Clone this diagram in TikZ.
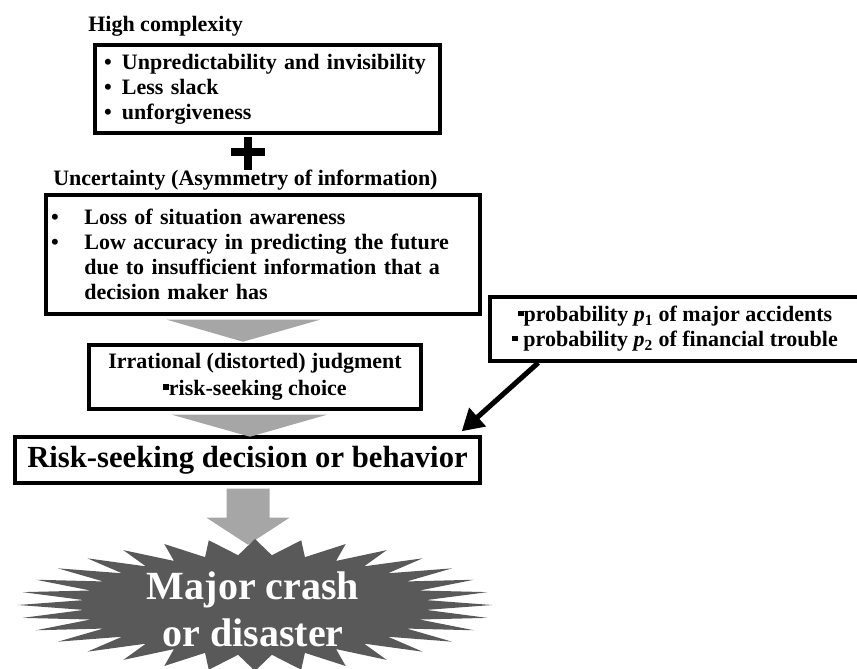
\documentclass[tikz,border=0pt]{standalone}
\usepackage{fontspec}
\setmainfont{Liberation Serif}
\usetikzlibrary{calc,arrows.meta}
\definecolor{arrowgray}{RGB}{166,166,166}
\definecolor{burstgray}{RGB}{89,89,89}
\newcommand{\sqbul}{\raisebox{0.55ex}{\rule{0.26em}{0.26em}}}
\begin{document}
\begin{tikzpicture}[x=0.75pt, y=-0.75pt,
    box/.style={draw, line width=2.6pt, inner ysep=0pt, font=\bfseries\fontsize{16.5}{18.75}\selectfont},
    label/.style={font=\bfseries\fontsize{16.5}{18.75}\selectfont, anchor=west, inner sep=0pt},
    flow/.style={fill=arrowgray},
    pointer/.style={line width=3.8pt, -{Triangle[length=16pt, width=18pt]}}
]
\useasboundingbox (0,0) rectangle (857,668);

% Causes (top)
\node[label] (complexlabel) at (88,26) {High complexity};
\node[box, minimum width=258.75pt, minimum height=66pt, inner xsep=6.75pt, text width=245.25pt, align=left] (complexity) at (267.5,89)
  {\makebox[13.5pt][l]{•}Unpredictability and invisibility\\
   \makebox[13.5pt][l]{•}Less slack\\
   \makebox[13.5pt][l]{•}unforgiveness};
\draw[line width=5.5pt] (248,137) -- (248,170) (231,152) -- (265,152);
\node[label] (uncertlabel) at (53,180) {Uncertainty (Asymmetry of information)};
\node[box, minimum width=325.5pt, minimum height=89.25pt, inner xsep=3.75pt, text width=318pt, align=left] (uncertainty) at (263,254.5)
  {\makebox[25pt][l]{•}Loss of situation awareness\\
   \makebox[25pt][l]{•}Low accuracy in predicting the future\\
   \hspace*{25pt}due to insufficient information that a\\
   \hspace*{25pt}decision maker has};

% Judgment and decision
\node[box, minimum width=249pt, minimum height=48pt, align=center, font=\bfseries\fontsize{16.5}{20}\selectfont] (judgment) at (255,377)
  {Irrational (distorted) judgment\\ \sqbul risk-seeking choice};
\node[box, minimum width=348.75pt, minimum height=34.5pt, font=\bfseries\fontsize{23}{26}\selectfont] (decision) at (247.5,460)
  {Risk-seeking decision or behavior};
\node[box, minimum width=277.5pt, minimum height=48pt, align=center] (prob) at (675,329)
  {\sqbul probability \textit{p}\textsubscript{1} of major accidents\\
   \sqbul\ probability \textit{p}\textsubscript{2} of financial trouble};

% Gray flow arrows
\fill[flow] ($(uncertainty.south)+(-96,4)$) -- ($(uncertainty.south)+(57,4)$) -- ($(uncertainty.south)+(-20,26)$) -- cycle;
\fill[flow] ($(judgment.south)+(-83,4)$) -- ($(judgment.south)+(72,4)$) -- ($(judgment.south)+(-5,26)$) -- cycle;
\fill[flow] ($(decision.south)+(-21,4)$) -- ($(decision.south)+(22,4)$) -- ($(decision.south)+(22,33)$)
  -- ($(decision.south)+(42,33)$) -- ($(decision.south)+(0.5,60)$) -- ($(decision.south)+(-41,33)$)
  -- ($(decision.south)+(-21,33)$) -- cycle;

% Probabilities feed the decision
\coordinate (hit) at ($(decision.north east)+(-20,-4)$);
\draw[pointer] ($(prob.south west)+(50,0)$) -- (hit);

% Outcome
\fill[burstgray] plot[samples at={0,...,63}, variable=\k]
  ({255+ifthenelse(mod(\k,2)==0,237,172)*cos(90+5.625*\k)}, {605-ifthenelse(mod(\k,2)==0,66,50)*sin(90+5.625*\k)}) -- cycle;
\node[text=white, align=center, font=\bfseries\fontsize{30}{35.25}\selectfont] (disaster) at (253,609)
  {Major crash\\ or disaster};
\end{tikzpicture}
\end{document}
